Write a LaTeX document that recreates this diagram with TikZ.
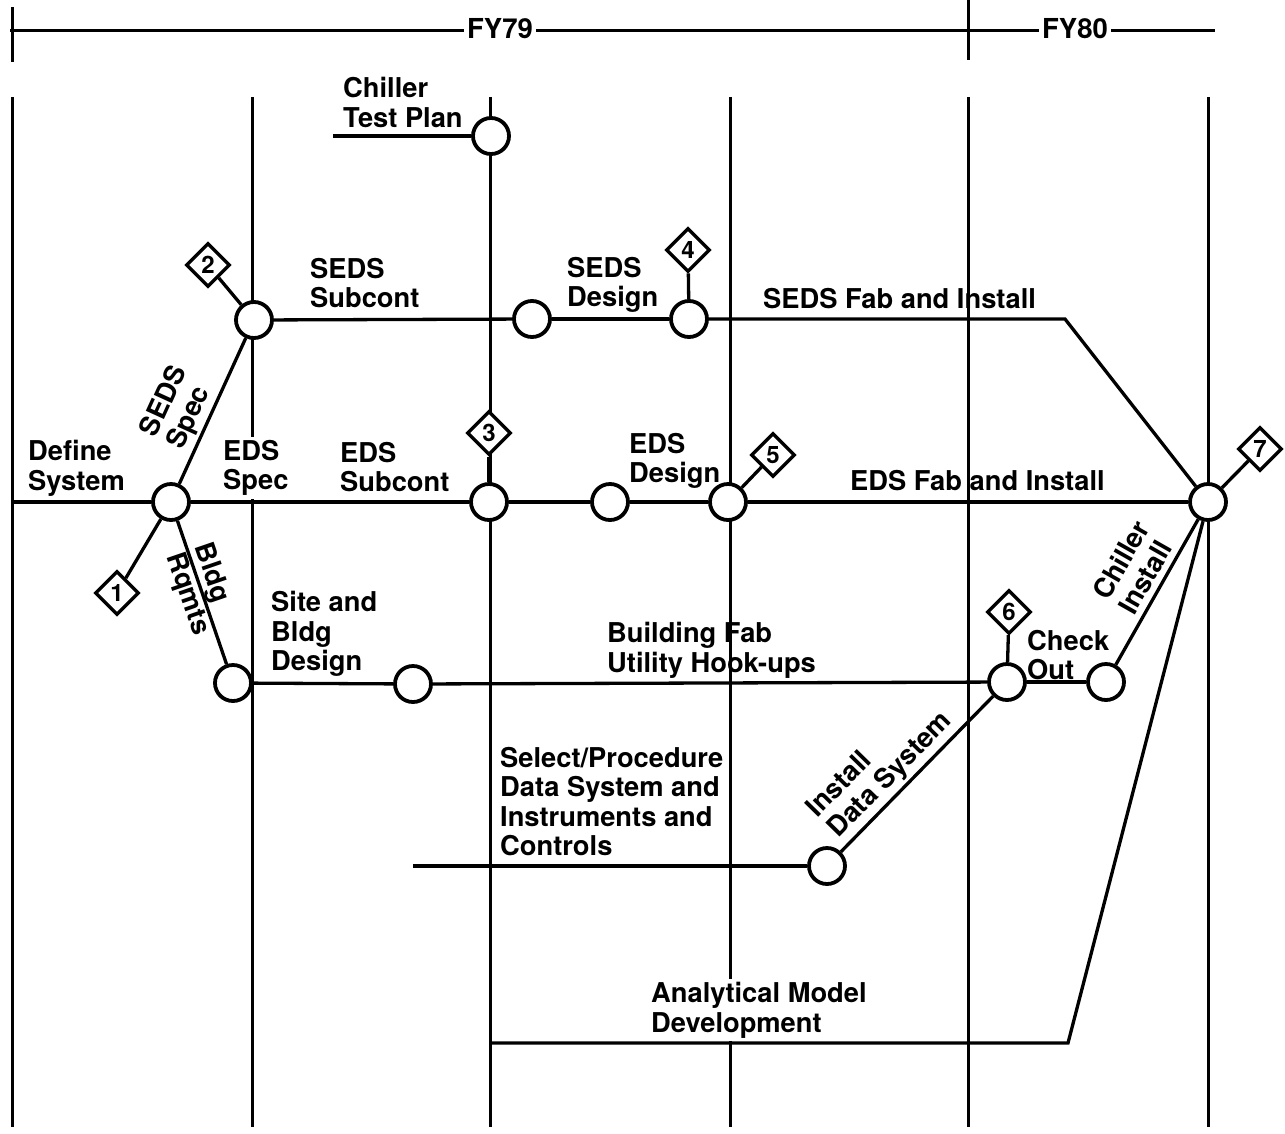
\documentclass[tikz,border=0pt]{standalone}
\usepackage{fontspec}
\setmainfont{TeX Gyre Heros}
\usetikzlibrary{shapes.geometric}
\tikzset{
  lbl/.style={font=\bfseries\fontsize{27.3}{29.5}\selectfont, align=left, inner sep=0pt, anchor=north west},
  wlbl/.style={lbl, fill=white, inner sep=3pt},
  rlbl/.style={font=\bfseries\fontsize{27.3}{29.5}\selectfont, align=left, inner sep=1pt},
  fylbl/.style={font=\bfseries\fontsize{27.5}{29}\selectfont, fill=white, inner sep=3pt},
  mcirc/.style={circle, draw, line width=3.8pt, fill=white, minimum size=36pt, inner sep=0pt},
  mile/.style={diamond, draw, line width=3.4pt, fill=white, minimum width=44pt, minimum height=44pt, inner sep=0pt, font=\bfseries\fontsize{24}{24}\selectfont},
  conn/.style={line width=3.3pt},
  gridline/.style={line width=3pt},
}
\begin{document}
\begin{tikzpicture}[x=1pt,y=-1pt]
\useasboundingbox (0,0) rectangle (1285,1133);

% time axis
\coordinate (axL) at (10,30);
\coordinate (axR) at (1215,30);
\draw[gridline] (axL) -- (axR);
\coordinate (t1a) at (12,7);
\coordinate (t1b) at (12,62);
\coordinate (t2a) at (968,0);
\coordinate (t2b) at (968,60);
\draw[gridline] (t1a) -- (t1b);
\draw[gridline] (t2a) -- (t2b);
\node[fylbl] (fy79) at (500,29) {FY79};
\node[fylbl] (fy80) at (1075,29) {FY80};

% vertical grid
\foreach \gx [count=\i] in {12,252,490,730,968,1208}{
  \coordinate (g\i a) at (\gx,97);
  \coordinate (g\i b) at (\gx,1127);
  \draw[gridline] (g\i a) -- (g\i b);
}

% white-backed labels (over grid)
\node[wlbl] (edsspec) at (220,437) {EDS\\Spec};
\node[wlbl] (anal) at (648,979) {Analytical Model\\Development};

% circles
\node[mcirc] (Ctest) at (491,136) {};
\node[mcirc] (Csub) at (254,320) {};
\node[mcirc] (Csd) at (532,319) {};
\node[mcirc] (C4) at (689,319) {};
\node[mcirc] (Cdef) at (171,502) {};
\node[mcirc] (C3) at (489,502) {};
\node[mcirc] (Ceds) at (610,502) {};
\node[mcirc] (C5) at (728,502) {};
\node[mcirc] (C7) at (1208,502) {};
\node[mcirc] (Cbldg) at (233,683) {};
\node[mcirc] (Csite) at (413,684) {};
\node[mcirc] (C6) at (1007,682) {};
\node[mcirc] (Cco) at (1106,682) {};
\node[mcirc] (Cdata) at (827,866) {};

% milestones
\node[mile] (D1) at (117,593) {1};
\node[mile] (D2) at (208,265) {2};
\node[mile] (D3) at (489,433) {3};
\node[mile] (D4) at (688,250) {4};
\node[mile] (D5) at (773,455) {5};
\node[mile] (D6) at (1009,612) {6};
\node[mile] (D7) at (1260,449) {7};

% free ends / corners
\coordinate (tpL) at (333,136);
\coordinate (edsL) at (12,502);
\coordinate (sedsK) at (1065,319);
\coordinate (dataL) at (413,866);
\coordinate (anL) at (490,1043);
\coordinate (anK) at (1068,1043);

% connectors
\draw[conn] (tpL) -- (Ctest);
\draw[conn] (Csub) -- (Csd);
\draw[conn] (Csd) -- (C4);
\draw[conn] (C4) -- (sedsK) -- (C7);
\draw[conn] (edsL) -- (Cdef);
\draw[conn] (Cdef) -- (C3);
\draw[conn] (C3) -- (Ceds);
\draw[conn] (Ceds) -- (C5);
\draw[conn] (C5) -- (C7);
\draw[conn] (Cbldg) -- (Csite);
\draw[conn] (Csite) -- (C6);
\draw[conn] (C6) -- (Cco);
\draw[conn] (dataL) -- (Cdata);
\draw[conn] (anL) -- (anK) -- (C7);
\draw[conn] (Cdef) -- node[rlbl, sloped, above=2pt, pos=0.43] (lsedsspec) {SEDS\\Spec} (Csub);
\draw[conn] (Cdef) -- node[rlbl, sloped, pos=0.48] (lbldg) {Bldg\\Rqmts} (Cbldg);
\draw[conn] (Cco) -- node[rlbl, sloped, above=5pt, pos=0.56] (lchill) {Chiller\\Install} (C7);
\draw[conn] (Cdata) -- node[rlbl, sloped, above=2pt, pos=0.41] (linst) {Install\\Data System} (C6);

\draw[conn] (D1) -- (Cdef);
\draw[conn] (D2) -- (Csub);
\draw[conn] (D3) -- (C3);
\draw[conn] (D4) -- (C4);
\draw[conn] (D5) -- (C5);
\draw[conn] (D6) -- (C6);
\draw[conn] (D7) -- (C7);

% text labels
\node[lbl] (ltp) at (343,77) {Chiller\\Test Plan};
\node[lbl] (lss) at (310,258) {SEDS\\Subcont};
\node[lbl] (lsd) at (567,257) {SEDS\\Design};
\node[lbl] (lsf) at (763,288) {SEDS Fab and Install};
\node[lbl] (ldef) at (28,440) {Define\\System};
\node[lbl] (les) at (340,442) {EDS\\Subcont};
\node[lbl] (led) at (629,433) {EDS\\Design};
\node[lbl] (lef) at (850,470) {EDS Fab and Install};
\node[lbl] (lsite) at (271,591) {Site and\\Bldg\\Design};
\node[lbl] (lbf) at (607,622) {Building Fab\\Utility Hook-ups};
\node[lbl] (lco) at (1027,630) {Check\\Out};
\node[lbl] (lsel) at (500,747) {Select/Procedure\\Data System and\\Instruments and\\Controls};
\end{tikzpicture}
\end{document}
